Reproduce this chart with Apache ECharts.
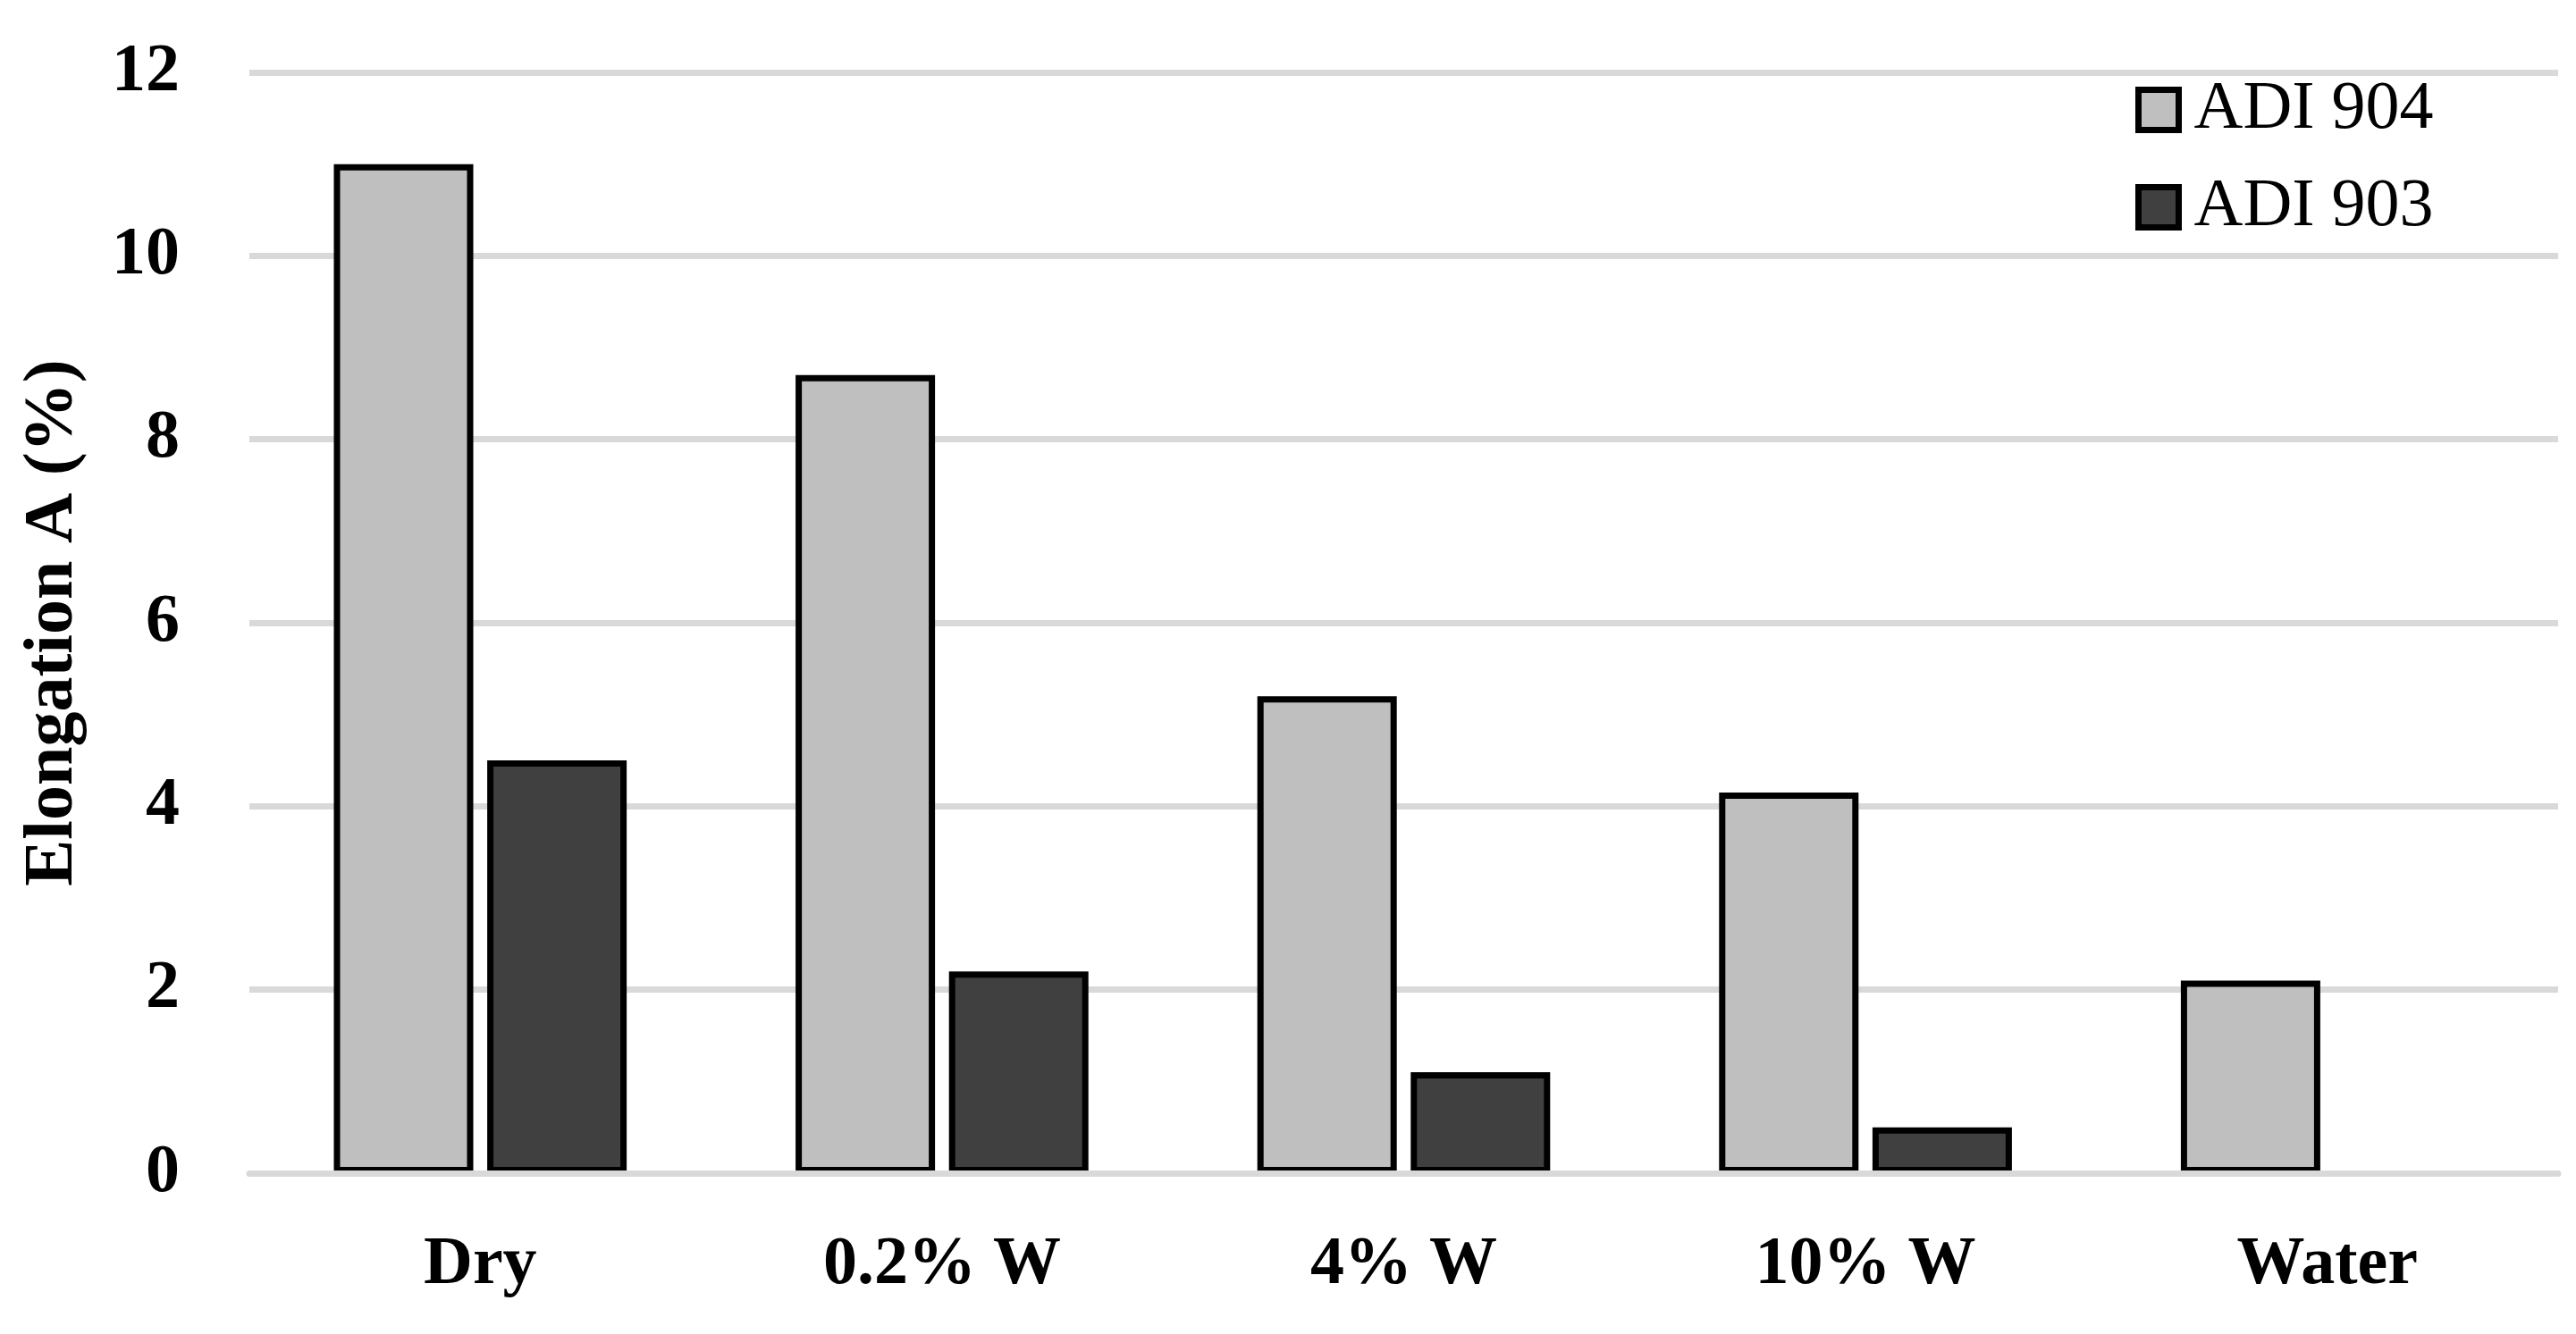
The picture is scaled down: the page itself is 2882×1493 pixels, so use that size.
<!DOCTYPE html>
<html>
<head>
<meta charset="utf-8">
<script src="https://cdn.jsdelivr.net/npm/echarts@6/dist/echarts.min.js"></script>
<style>
html,body{margin:0;padding:0;background:#fff;}
#chart{width:2882px;height:1493px;}
</style>
</head>
<body>
<div id="chart"></div>
<script>
const categories = ['Dry', '0.2% W', '4% W', '10% W', 'Water'];
const adi904 = [11.0, 8.7, 5.2, 4.15, 2.1];
const adi903 = [4.5, 2.2, 1.1, 0.5, null];
const seriesNames = ['ADI 904', 'ADI 903'];
const yTicks = {min: 0, max: 12, interval: 2};
const yTitle = 'Elongation A (%)';

const FONT = '"Palatino Linotype", "Book Antiqua", Palatino, "Liberation Serif", serif';
const chart = echarts.init(document.getElementById('chart'), null, {renderer: 'canvas'});
chart.setOption({
  backgroundColor: '#ffffff',
  animation: false,
  grid: {left: 279, right: 20, top: 81, bottom: 180},
  legend: {
    orient: 'vertical',
    left: 2389,
    top: 85,
    padding: 0,
    itemWidth: 45,
    itemHeight: 45,
    itemGap: 33,
    icon: 'rect',
    itemStyle: {borderColor: '#000', borderWidth: 7},
    textStyle: {fontFamily: FONT, fontSize: 76, color: '#000', padding: [0, 0, 0, 12]},
    data: seriesNames
  },
  xAxis: {
    type: 'category',
    data: categories,
    z: 5,
    axisLine: {show: true, lineStyle: {color: '#d9d9d9', width: 7}},
    axisTick: {show: false},
    axisLabel: {fontFamily: FONT, fontSize: 76, fontWeight: 'bold', color: '#000', margin: 65}
  },
  yAxis: {
    type: 'value',
    min: yTicks.min,
    max: yTicks.max,
    interval: yTicks.interval,
    name: yTitle,
    nameLocation: 'middle',
    nameRotate: 90,
    nameGap: 180,
    nameTextStyle: {fontFamily: FONT, fontSize: 78, fontWeight: 'bold', color: '#000'},
    axisLine: {show: false},
    axisTick: {show: false},
    splitLine: {lineStyle: {color: '#d9d9d9', width: 7}},
    axisLabel: {fontFamily: FONT, fontSize: 76, fontWeight: 'bold', color: '#000', margin: 78}
  },
  series: [
    {
      name: seriesNames[0], type: 'bar', data: adi904,
      barWidth: 156, barGap: '10%',
      itemStyle: {color: '#bfbfbf', borderColor: '#000', borderWidth: 7}
    },
    {
      name: seriesNames[1], type: 'bar', data: adi903,
      barWidth: 156, barGap: '10%',
      itemStyle: {color: '#404040', borderColor: '#000', borderWidth: 7}
    }
  ]
});
</script>
</body>
</html>
